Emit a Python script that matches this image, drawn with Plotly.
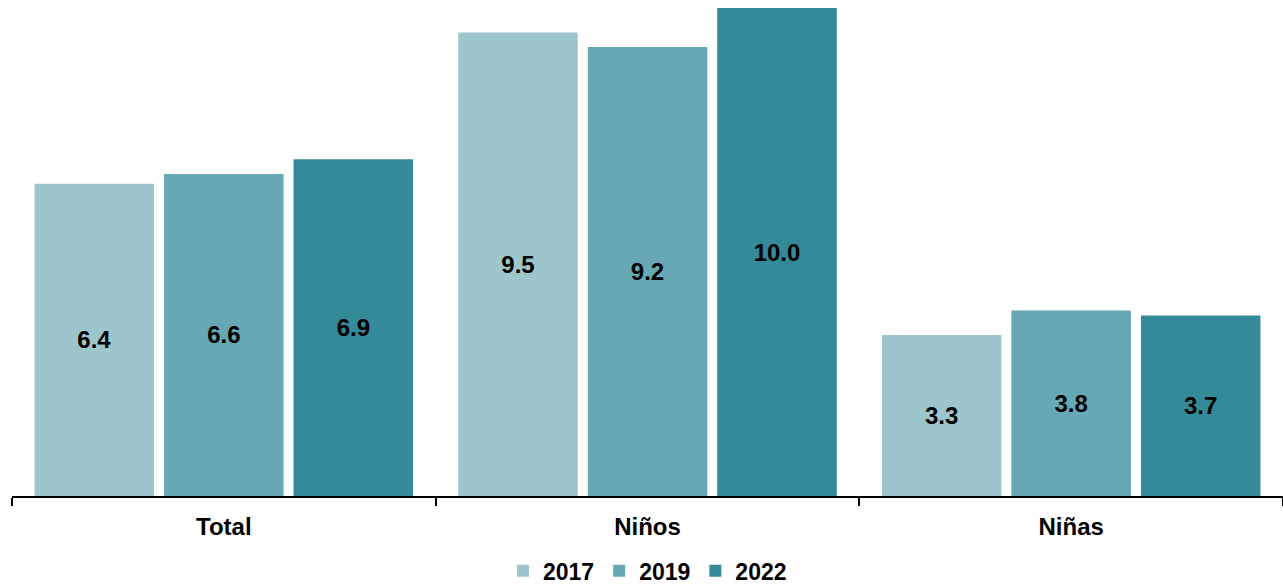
import plotly.graph_objects as go

categories = ["Total", "Niños", "Niñas"]
years = ["2017", "2019", "2022"]
values_2017 = [6.4, 9.5, 3.3]
values_2019 = [6.6, 9.2, 3.8]
values_2022 = [6.9, 10.0, 3.7]
colors = ["#9DC5CC", "#66A8B4", "#348A98"]

series = [values_2017, values_2019, values_2022]

FONT = "Liberation Sans, Arial"

fig = go.Figure()
for name, vals, col in zip(years, series, colors):
    fig.add_trace(go.Bar(
        x=categories, y=vals, name=name,
        marker=dict(color=col, line=dict(width=0)),
        text=[f"{v:.1f}" for v in vals],
        textposition="inside", insidetextanchor="middle",
        textfont=dict(family=FONT, size=24, color="#000000", weight="bold"),
        textangle=0,
        cliponaxis=False,
    ))

fig.update_layout(
    width=1283, height=586,
    margin=dict(l=12, r=0, t=8, b=90, autoexpand=False),
    barmode="group", bargap=0.083, bargroupgap=0.077,
    plot_bgcolor="white", paper_bgcolor="white",
    font=dict(family=FONT, size=24, color="#000000"),
    legend=dict(orientation="h", x=0.5, xanchor="center", yref="container",
                y=0.026, yanchor="middle",
                font=dict(size=23, weight="bold"), itemwidth=30, traceorder="normal"),
    showlegend=True,
)
fig.update_xaxes(showline=True, linecolor="#000000", linewidth=2,
                 ticks="outside", tickson="boundaries", ticklen=8, tickcolor="#000000", tickwidth=2,
                 tickfont=dict(size=24, weight="bold"), ticklabelstandoff=8, showgrid=False)
fig.update_yaxes(range=[0, 10.0], visible=False, showgrid=False)

fig.write_html("out.html", config={"displayModeBar": False},
               post_script="document.body.style.margin='0';document.body.style.overflow='hidden';")
